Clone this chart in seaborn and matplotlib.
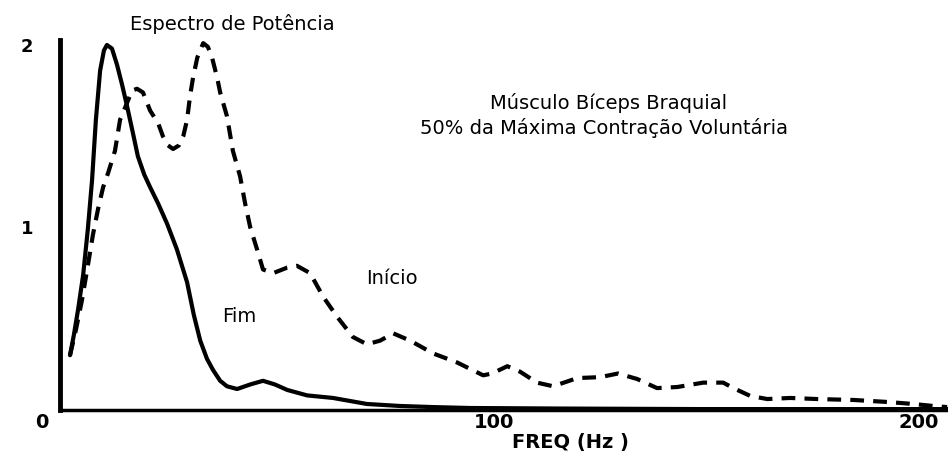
import matplotlib
matplotlib.use("Agg")
import matplotlib.pyplot as plt
import matplotlib.transforms as mtransforms
import numpy as np
import pandas as pd
import seaborn as sns

# Power spectrum of the biceps brachii EMG at 50% MVC, start vs end of the effort
freq_fim = [0.0, 0.9, 1.9, 3.1, 4.2, 5.2, 6.1, 7.1, 8.0, 8.7, 9.9, 11.1, 12.3,
            13.4, 14.9, 16.0, 17.5, 18.9, 20.8, 22.9, 25.2, 27.6, 29.2, 30.7,
            32.3, 33.7, 35.4, 37.0, 39.4, 42.5, 45.5, 48.3, 51.2, 55.9, 62.0,
            70.0, 77.8, 85.6, 94.3, 115.6, 148.6, 207.0]
pot_fim = [0.30, 0.41, 0.55, 0.74, 0.99, 1.26, 1.59, 1.86, 1.97, 2.00, 1.98,
           1.89, 1.78, 1.67, 1.51, 1.39, 1.29, 1.22, 1.13, 1.02, 0.88, 0.70,
           0.52, 0.38, 0.28, 0.22, 0.16, 0.13, 0.115, 0.14, 0.16, 0.14, 0.11,
           0.08, 0.066, 0.033, 0.022, 0.016, 0.011, 0.008, 0.005, 0.005]

freq_inicio = [0.0, 1.4, 2.8, 4.2, 5.4, 6.6, 7.8, 9.0, 10.6, 11.8, 13.4, 14.6,
               15.8, 17.2, 18.9, 20.8, 21.9, 23.1, 24.3, 25.7, 26.7, 27.6,
               28.3, 29.0, 30.0, 31.4, 32.5, 33.5, 34.7, 35.4, 37.0, 38.4,
               40.1, 41.3, 42.5, 44.1, 45.5, 47.9, 51.2, 53.5, 56.6, 59.7,
               63.0, 66.7, 70.0, 73.1, 76.2, 80.2, 85.6, 91.3, 97.4, 99.5,
               103.1, 106.1, 110.1, 113.9, 119.6, 125.0, 129.2, 133.7, 138.4,
               143.2, 149.3, 154.0, 156.4, 160.4, 164.4, 169.8, 176.2, 184.7,
               192.7, 198.8, 203.5, 206.8]
pot_inicio = [0.30, 0.44, 0.60, 0.79, 0.96, 1.10, 1.22, 1.30, 1.42, 1.59,
              1.68, 1.75, 1.76, 1.74, 1.64, 1.57, 1.50, 1.45, 1.43, 1.45,
              1.50, 1.59, 1.72, 1.82, 1.93, 2.01, 1.99, 1.93, 1.82, 1.74,
              1.61, 1.42, 1.28, 1.13, 1.00, 0.88, 0.77, 0.75, 0.78, 0.79,
              0.75, 0.62, 0.51, 0.40, 0.36, 0.38, 0.42, 0.38, 0.31, 0.26,
              0.19, 0.20, 0.24, 0.21, 0.15, 0.13, 0.175, 0.18, 0.20, 0.17,
              0.12, 0.126, 0.15, 0.15, 0.12, 0.077, 0.06, 0.066, 0.06, 0.055,
              0.044, 0.033, 0.022, 0.016]

x_ticks = [0, 100, 200]
x_tick_labels = ["0", "100", "200"]
y_ticks = [1, 2]
y_tick_labels = ["1", "2"]

df = pd.concat([
    pd.DataFrame({"freq": freq_fim, "pot": pot_fim, "curva": "Fim"}),
    pd.DataFrame({"freq": freq_inicio, "pot": pot_inicio, "curva": "Início"}),
], ignore_index=True)

sns.set_theme(style="white")
plt.rcParams["font.family"] = ["DejaVu Sans"]

fig = plt.figure(figsize=(9.48, 4.55), dpi=100)
ax = fig.add_axes([60 / 948, 45 / 455, 888 / 948, 370.5 / 455])

sns.lineplot(data=df, x="freq", y="pot", style="curva",
             dashes={"Fim": "", "Início": (3.3, 2.2)},
             color="black", linewidth=3.0, estimator=None, sort=False,
             legend=False, ax=ax)

ax.set_xlim(-2.36, 207)
ax.set_ylim(0, 2.03)

sns.despine(ax=ax)
ax.spines["left"].set_linewidth(3.5)
ax.spines["bottom"].set_linewidth(2.5)
for side in ("left", "bottom"):
    ax.spines[side].set_color("black")

ax.set_xticks(x_ticks)
ax.set_xticklabels(x_tick_labels, fontsize=14, fontweight="bold")
ax.set_yticks(y_ticks)
ax.set_yticklabels(y_tick_labels, fontsize=13, fontweight="bold")
ax.tick_params(axis="x", direction="in", length=3, width=2, pad=2, colors="black")
ax.tick_params(axis="y", direction="in", length=8, width=2.5, pad=19, colors="black")

# the origin label sits at the lower-left corner
zero_lbl = ax.get_xticklabels()[0]
zero_lbl.set_transform(zero_lbl.get_transform() +
                       mtransforms.ScaledTranslation(-0.28, 0, fig.dpi_scale_trans))

ax.set_xlabel("FREQ (Hz )", fontsize=14, fontweight="bold", color="black")
ax.xaxis.set_label_coords((570 - 60) / 888, -0.063)
ax.set_ylabel("")

ax.text(38.2, 2.115, "Espectro de Potência", fontsize=14,
        ha="center", va="center", color="black", clip_on=False)
ax.text(127, 1.68, "Músculo Bíceps Braquial", fontsize=14,
        ha="center", va="center", color="black")
ax.text(126, 1.545, "50% da Máxima Contração Voluntária", fontsize=14,
        ha="center", va="center", color="black")
ax.text(76, 0.72, "Início", fontsize=14, ha="center", va="center", color="black")
ax.text(39.9, 0.51, "Fim", fontsize=14, ha="center", va="center", color="black")

fig.savefig("out.png", dpi=100, facecolor="white")
